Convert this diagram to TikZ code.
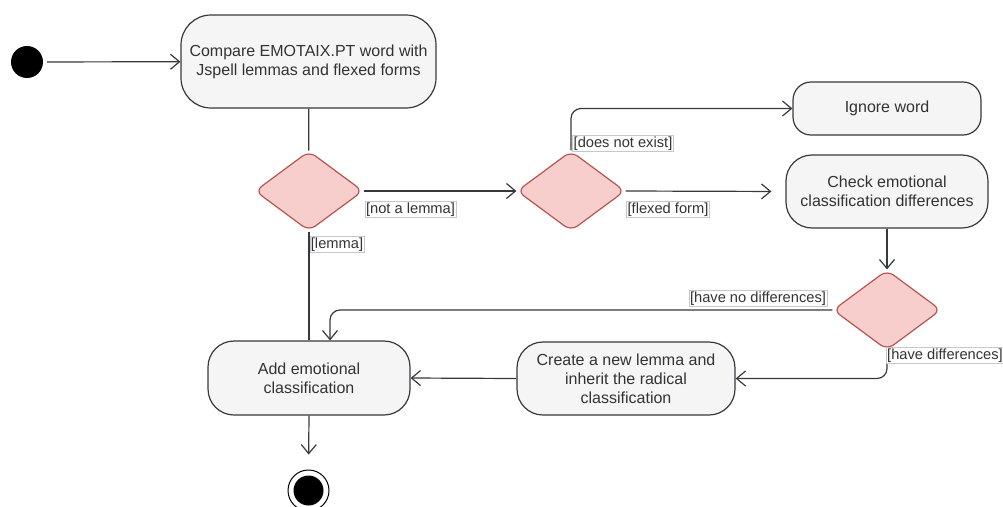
\documentclass[tikz,border=0pt]{standalone}
\usepackage{fontspec}
\setmainfont{Liberation Sans}
\usetikzlibrary{arrows.meta,shapes.geometric}
\definecolor{nodefill}{HTML}{F5F5F5}
\definecolor{nodeline}{HTML}{36393D}
\definecolor{textcol}{HTML}{333333}
\definecolor{decfill}{HTML}{F8CECC}
\definecolor{decline}{HTML}{B85450}
\definecolor{lblline}{HTML}{C8C8C8}
\pgfdeclarelayer{background}
\pgfsetlayers{background,main}
\begin{document}
\begin{tikzpicture}[x=1pt,y=-1pt,
  act/.style={draw=nodeline, fill=nodefill, line width=1.2pt, rounded corners=#1,
    inner sep=0pt, align=center, text=textcol, font=\fontsize{16}{19}\selectfont},
  decision/.style={diamond, draw=decline, fill=decfill, line width=1.2pt,
    rounded corners=8pt, inner sep=0pt, minimum width=108pt, minimum height=80pt},
  guard/.style={draw=lblline, line width=0.5pt, fill=white, inner sep=1pt, text=textcol,
    font=\fontsize{14.67}{16}\selectfont},
  flow/.style={draw=nodeline, line width=1.2pt, rounded corners=10pt},
  arr/.style={flow, -{Straight Barb[length=9pt,width=15pt]}},
]
\useasboundingbox (0,0) rectangle (1003,506);

\node[circle, fill=black, minimum size=32pt, inner sep=0pt] (start) at (27,62) {};
\node[act=30pt, minimum width=255pt, minimum height=93pt] (compare) at (308.5,61.5)
  {Compare EMOTAIX.PT word with\\Jspell lemmas and flexed forms};
\node[decision] (d1) at (309,191) {};
\node[decision] (d2) at (571,191) {};
\node[act=18pt, minimum width=188pt, minimum height=53pt] (ignore) at (887,108.5) {Ignore word};
\node[act=26pt, minimum width=202pt, minimum height=73pt] (check) at (887,191.5)
  {Check emotional\\classification differences};
\node[decision] (d3) at (887,310) {};
\node[act=26pt, minimum width=218pt, minimum height=73pt] (create) at (626,378.5)
  {Create a new lemma and\\inherit the radical\\classification};
\node[act=26pt, minimum width=202pt, minimum height=74pt] (add) at (309,378)
  {Add emotional\\classification};
\node[circle, draw=black, line width=1pt, fill=white, minimum size=41pt, inner sep=0pt] (endn) at (308.5,490.5) {};
\node[circle, fill=black, minimum size=30pt, inner sep=0pt] (endin) at (endn.center) {};

\begin{pgfonlayer}{background}
\draw[arr, shorten <=4pt] (start) -- (compare);
\draw[flow] (compare) -- (d1);
\draw[arr] (d1.east) -- (d2.west);
\draw[arr] (d2.north) |- (ignore.west);
\draw[arr, shorten >=14pt] (d2.east) -- (check.west);
\draw[arr] (check.south) -- (d3.north);
\draw[arr] (d3.west) -| ([xshift=21pt]add.north);
\draw[arr] (d3.south) |- (create.east);
\draw[arr] (create.west) -- (add.east);
\draw[flow] (d1.south) -- (add.north);
\draw[arr, shorten >=15pt] (add.south) -- (endn.north);
\end{pgfonlayer}

\node[guard] (g1) at (410.5,209.5) {[not a lemma]};
\node[guard] (g2) at (337,244.5) {[lemma]};
\node[guard] (g3) at (623,143.5) {[does not exist]};
\node[guard] (g4) at (668,209.5) {[flexed form]};
\node[guard] (g5) at (758,298.5) {[have no differences]};
\node[guard] (g6) at (945,355.5) {[have differences]};
\end{tikzpicture}
\end{document}
